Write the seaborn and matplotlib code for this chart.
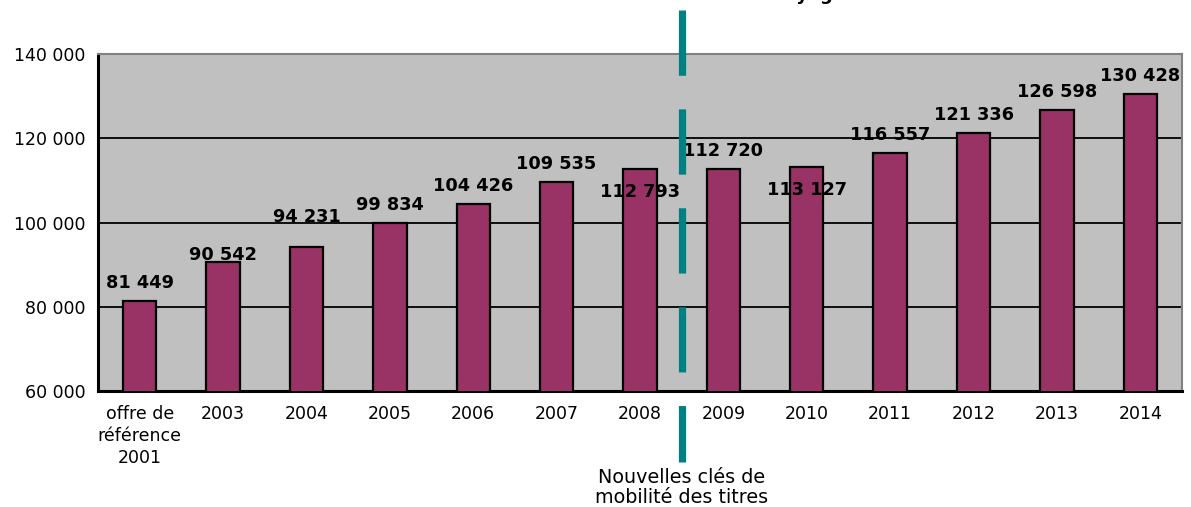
import matplotlib
matplotlib.use('Agg')
import matplotlib.pyplot as plt
import matplotlib.transforms as mtransforms
import pandas as pd
import seaborn as sns

# data
categories = ['offre de\nréférence\n2001', '2003', '2004', '2005', '2006', '2007',
              '2008', '2009', '2010', '2011', '2012', '2013', '2014']
offre = [81449, 90542, 94231, 99834, 104426, 109535,
         112793, 112720, 113127, 116557, 121336, 126598, 130428]
value_labels = ['81 449', '90 542', '94 231', '99 834', '104 426', '109 535',
                '112 793', '112 720', '113 127', '116 557', '121 336', '126 598', '130 428']
yticks = [60000, 80000, 100000, 120000, 140000]
ytick_labels = ['60 000', '80 000', '100 000', '120 000', '140 000']
title = 'Offre totale en milliers de voyages'
note = 'Nouvelles clés de\nmobilité des titres'

# label vertical offsets (points) relative to bar top
label_dy = [13, 5, 21.5, 13, 13, 13, -16.5, 13, -16.5, 13, 13, 13, 13]

sns.set_style('white')
plt.rcParams['font.family'] = ['DejaVu Sans']
plt.rcParams['lines.scale_dashes'] = False
plt.rcParams['text.color'] = 'black'
plt.rcParams['xtick.color'] = 'black'
plt.rcParams['ytick.color'] = 'black'

df = pd.DataFrame({'cat': categories, 'offre': offre})

fig = plt.figure(figsize=(11.91, 5.07), dpi=100)
ax = fig.add_axes([98 / 1191, 116 / 507, 1084 / 1191, 337 / 507])
ax.set_facecolor('#C0C0C0')

sns.barplot(data=df, x='cat', y='offre', order=categories, color='#993366',
            saturation=1, width=0.4, edgecolor='black', linewidth=1.6, ax=ax, zorder=3)

ax.set_xlim(-0.5, len(categories) - 0.5)
ax.set_ylim(60000, 140000)
ax.set_yticks(yticks)
ax.set_yticklabels(ytick_labels, fontsize=12.5)
ax.set_xticks(range(len(categories)))
ax.set_xticklabels(categories, fontsize=12.5, linespacing=1.3)
ax.tick_params(axis='x', which='major', length=0, pad=10)
ax.set_xticks([i + 0.5 for i in range(len(categories) - 1)], minor=True)
ax.tick_params(axis='x', which='minor', length=5, width=1.5, color='black', direction='out')
ax.tick_params(axis='y', length=5, width=1.5, color='black', direction='out', pad=4)
ax.set_xlabel('')
ax.set_ylabel('')

for y in yticks[1:-1]:
    ax.axhline(y, color='black', linewidth=1.3, zorder=1)

for side in ['left', 'bottom']:
    ax.spines[side].set_color('black')
    ax.spines[side].set_linewidth(2.2)
for side in ['top', 'right']:
    ax.spines[side].set_color('#808080')
    ax.spines[side].set_linewidth(1.5)

for i, (v, lab) in enumerate(zip(offre, value_labels)):
    ax.annotate(lab, (i, v), xytext=(0, label_dy[i]), textcoords='offset points',
                ha='center', va='center', fontsize=12.8, fontweight='bold', zorder=5)

# dashed separator between 2008 and 2009
trans = mtransforms.blended_transform_factory(ax.transData, ax.transAxes)
ax.plot([6.5, 6.5], [1.131, -0.211], transform=trans, color='#008080', linewidth=5.2,
        dashes=(47, 24.2), clip_on=False, zorder=6, solid_capstyle='butt', dash_capstyle='butt')
ax.text(6.5, -0.228, note, transform=trans, ha='center', va='top', fontsize=13.8, linespacing=1.08)

# title sits above the figure edge, as in the source image
fig.text(856 / 1191, 0.9995, title, ha='right', va='baseline', fontsize=13, fontweight='bold')

fig.savefig('out.png', dpi=100)
